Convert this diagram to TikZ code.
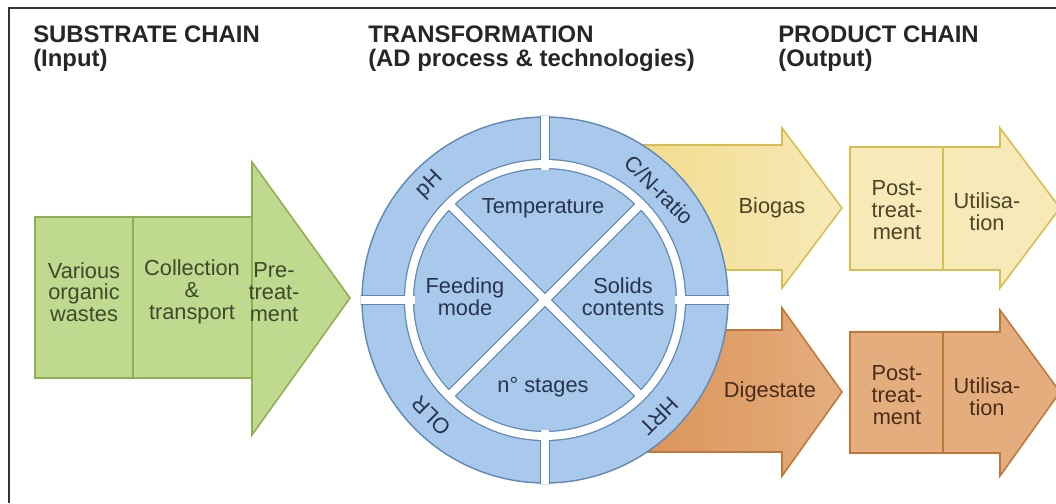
\documentclass[tikz,border=0pt]{standalone}
\usepackage{fontspec}
\setmainfont{Liberation Sans}
\definecolor{gfill}{HTML}{BFD98F}
\definecolor{gline}{HTML}{8FB052}
\definecolor{gtext}{HTML}{3D4A2B}
\definecolor{yfillA}{HTML}{F1D986}
\definecolor{yfillB}{HTML}{F7EAB8}
\definecolor{yline}{HTML}{D6BF4E}
\definecolor{ytext}{HTML}{4D4428}
\definecolor{ofillA}{HTML}{D98F52}
\definecolor{ofillB}{HTML}{E4AD7E}
\definecolor{oline}{HTML}{C2773A}
\definecolor{otext}{HTML}{4A2C18}
\definecolor{bfill}{HTML}{A9C9EC}
\definecolor{bline}{HTML}{5F88B5}
\definecolor{btext}{HTML}{28344D}
\tikzset{
  hdr/.style={anchor=base west, inner sep=0pt, text=black!85,
    font=\fontsize{17}{18}\selectfont\bfseries},
  lbl/.style={align=center, inner sep=0pt, font=\fontsize{15.5}{15.5}\selectfont},
  gapb/.style={draw=bline, line width=7.4pt},
  gapw/.style={draw=white, line width=5.6pt}
}
\begin{document}
\begin{tikzpicture}[x=0.25mm, y=-0.25mm]
\useasboundingbox (0,0) rectangle (1056,503);
\draw[line width=1.4pt, black!80] (9,503) -- (9,8) -- (1056,8);

\node[hdr] (h0) at (33,42) {SUBSTRATE CHAIN};
\node[hdr] (h1) at (33,66) {(Input)};
\node[hdr] (h2) at (368,42) {TRANSFORMATION};
\node[hdr] (h3) at (368,66) {(AD process \& technologies)};
\node[hdr] (h4) at (778,42) {PRODUCT CHAIN};
\node[hdr] (h5) at (778,66) {(Output)};

% substrate chain
\draw[fill=gfill, draw=gline, line width=1.1pt] (35,217) -- (252,217) -- (252,162) -- (350,298) -- (252,435) -- (252,378) -- (35,378) -- cycle;
\draw[gline, line width=1.1pt] (133,217) -- (133,378);
\draw[gline, line width=1.1pt] (252,217) -- (252,378);
\node[lbl, text=gtext] (s0) at (84,292) {Various\\organic\\wastes};
\node[lbl, text=gtext] (s1) at (192,292) {Collection\\\&\\transport};
\node[lbl, text=gtext] (s2) at (274,292) {Pre-\\treat-\\ment};

% outputs leaving the digester
\draw[left color=yfillA, right color=yfillB, draw=yline, line width=1.1pt] (600,145) -- (782,145) -- (782,128) -- (842,208) -- (782,288) -- (782,270) -- (600,270) -- cycle;
\draw[left color=ofillA, right color=ofillB, draw=oline, line width=1.1pt] (600,330) -- (782,330) -- (782,308) -- (842,392) -- (782,476) -- (782,452) -- (600,452) -- cycle;
\node[lbl, text=ytext] (p0) at (772,208) {Biogas};
\node[lbl, text=otext] (p1) at (770,392) {Digestate};

% product chain
\draw[fill=yfillB, draw=yline, line width=1.1pt] (850,147) -- (1000,147) -- (1000,128) -- (1060,208) -- (1000,288) -- (1000,270) -- (850,270) -- cycle;
\draw[yline, line width=1.1pt] (943,147) -- (943,270);
\node[lbl, text=ytext] (p2) at (897,210) {Post-\\treat-\\ment};
\node[lbl, text=ytext] (p3) at (987,212) {Utilisa-\\tion};
\draw[fill=ofillB, draw=oline, line width=1.1pt] (850,332) -- (1000,332) -- (1000,310) -- (1060,392) -- (1000,476) -- (1000,453) -- (850,453) -- cycle;
\draw[oline, line width=1.1pt] (943,332) -- (943,453);
\node[lbl, text=otext] (p4) at (897,395) {Post-\\treat-\\ment};
\node[lbl, text=otext] (p5) at (987,397) {Utilisa-\\tion};

% digester wheel
\draw[fill=bfill, draw=bline, line width=1pt] (545,300) circle (183);
\draw[gapb] (545,300) circle (136);
\draw[gapb] (448.8,203.8) -- (641.2,396.2);
\draw[gapb] (641.2,203.8) -- (448.8,396.2);
\begin{scope}
\clip (545,300) circle (184.5);
\draw[gapb] (545,100) -- (545,170);
\draw[gapb] (545,430) -- (545,500);
\draw[gapb] (345,300) -- (415,300);
\draw[gapb] (675,300) -- (745,300);
\draw[gapw] (545,100) -- (545,170);
\draw[gapw] (545,430) -- (545,500);
\draw[gapw] (345,300) -- (415,300);
\draw[gapw] (675,300) -- (745,300);
\end{scope}
\draw[gapw] (545,300) circle (136);
\draw[gapw] (448.8,203.8) -- (641.2,396.2);
\draw[gapw] (641.2,203.8) -- (448.8,396.2);

\node[lbl, text=btext] (c0) at (543,208) {Temperature};
\node[lbl, text=btext] (c1) at (465,297) {Feeding\\mode};
\node[lbl, text=btext] (c2) at (623,297) {Solids\\contents};
\node[lbl, text=btext] (c3) at (543,387) {n° stages};
\node[lbl, text=btext, rotate=45] (r0) at (430,185) {pH};
\node[lbl, text=btext, rotate=-45] (r1) at (659,190) {C/N-ratio};
\node[lbl, text=btext, rotate=135] (r2) at (431,416) {OLR};
\node[lbl, text=btext, rotate=225] (r3) at (659,416) {HRT};
\end{tikzpicture}
\end{document}
